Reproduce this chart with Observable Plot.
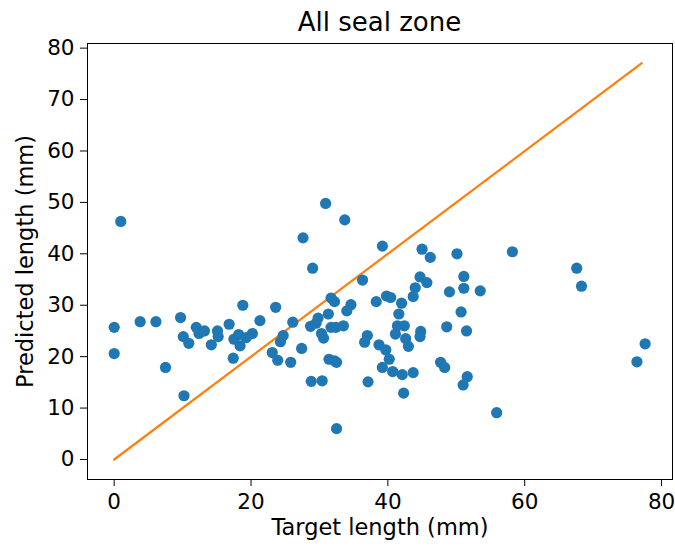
<!DOCTYPE html>
<html>
<head>
<meta charset="utf-8">
<script src="https://cdn.jsdelivr.net/npm/d3@7"></script>
<script src="https://cdn.jsdelivr.net/npm/@observablehq/plot@0.6"></script>
<style>
  html, body { margin: 0; padding: 0; background: #fff; }
  body { position: relative; width: 675px; height: 546px; overflow: hidden; font-family: "DejaVu Sans", sans-serif; }
  #title {
    position: absolute; left: 87px; top: 4px; width: 585px;
    line-height: 36px; font-size: 26px; text-align: center; color: #000;
  }
</style>
</head>
<body>
<div id="chart"></div>
<div id="title">All seal zone</div>
<script>
// Target vs predicted lengths (mm) for every sample in the seal zone
const target = [
  0.96, 0, 0, 3.8, 6.1, 7.5, 9.7, 10.2, 10.1, 10.9,
  12.0, 12.4, 13.2, 14.2, 15.1, 15.2, 16.8, 17.4, 18.8, 17.5,
  18.4, 18.2, 19.3, 20.2, 21.3, 23.6, 23.1, 23.9, 24.3, 24.7,
  30.9, 33.7, 27.6, 39.2, 29.0, 36.3, 26.1, 31.7, 32.2, 34.6,
  34.0, 31.3, 29.8, 29.5, 28.7, 31.7, 32.4, 33.5, 30.3, 30.6,
  25.8, 27.4, 31.4, 32.2, 32.5, 28.8, 30.4, 32.5, 38.3, 39.8,
  40.4, 42.0, 41.6, 41.4, 42.4, 41.1, 44.7, 44.0, 43.7, 44.8,
  44.7, 37.0, 36.6, 38.7, 39.7, 42.6, 43.0, 40.2, 39.2, 40.7,
  42.1, 43.7, 37.1, 42.3, 45.0, 46.2, 50.1, 58.2, 45.7, 51.1,
  51.1, 49.0, 53.5, 50.7, 48.6, 51.5, 47.7, 48.3, 51.6, 51.0,
  55.9, 67.6, 68.3, 77.6, 76.4
];
const predicted = [
  46.3, 25.7, 20.6, 26.8, 26.8, 17.9, 27.6, 12.4, 23.9, 22.6,
  25.7, 24.5, 25.0, 22.3, 25.0, 23.9, 26.3, 19.7, 30.0, 23.4,
  22.1, 24.3, 23.7, 24.5, 27.0, 29.6, 20.8, 19.3, 22.9, 24.1,
  49.8, 46.6, 43.1, 41.5, 37.2, 34.9, 26.7, 31.4, 30.7, 30.1,
  28.9, 28.3, 27.5, 26.5, 25.9, 25.7, 25.7, 26.0, 24.5, 23.6,
  18.9, 21.6, 19.5, 19.2, 18.9, 15.2, 15.3, 6.0, 30.7, 31.8,
  31.5, 30.4, 28.3, 26.0, 26.0, 24.4, 35.5, 33.4, 31.7, 24.9,
  23.9, 24.1, 22.8, 22.3, 21.3, 23.5, 22.0, 19.5, 17.9, 17.1,
  16.5, 16.9, 15.1, 12.9, 40.9, 39.3, 40.0, 40.4, 34.4, 35.6,
  33.3, 32.6, 32.8, 28.7, 25.8, 25.0, 18.9, 17.9, 16.1, 14.5,
  9.1, 37.2, 33.7, 22.5, 19.0
];

// Identity reference line (perfect prediction)
const identityX = [0, 77.1];
const identityY = [0, 77.1];

const xTicks = [0, 20, 40, 60, 80];
const yTicks = [0, 10, 20, 30, 40, 50, 60, 70, 80];

const points = target.map((t, i) => ({target: t, predicted: predicted[i]}));
const identity = identityX.map((v, i) => ({x: v, y: identityY[i]}));

const chart = Plot.plot({
  width: 675,
  height: 546,
  marginTop: 43,
  marginBottom: 67,
  marginLeft: 87,
  marginRight: 3,
  style: {fontFamily: "DejaVu Sans, sans-serif", fontSize: "21px", color: "#000", background: "#fff"},
  x: {domain: [-3.9, 81.6]},
  y: {domain: [-3.89, 80.9]},
  marks: [
    Plot.axisX(xTicks, {tickSize: 7, tickPadding: 7, fontSize: 21.5, label: null, stroke: "#000"}),
    Plot.axisY(yTicks, {tickSize: 7, tickPadding: 6, fontSize: 21.5, label: null, stroke: "#000"}),
    Plot.line(identity, {x: "x", y: "y", stroke: "#ff7f0e", strokeWidth: 2.2}),
    Plot.dot(points, {x: "target", y: "predicted", r: 5.6, fill: "#1f77b4", stroke: "none"}),
    Plot.frame({stroke: "#000", strokeWidth: 1}),
    Plot.text(["Target length (mm)"], {frameAnchor: "bottom", dy: 55, fontSize: 22.5, fill: "#000", textAnchor: "middle"}),
    Plot.text(["Predicted length (mm)"], {frameAnchor: "left", dx: -62, rotate: -90, fontSize: 22.5, fill: "#000", textAnchor: "middle"})
  ]
});
document.getElementById("chart").appendChild(chart);
</script>
</body>
</html>
